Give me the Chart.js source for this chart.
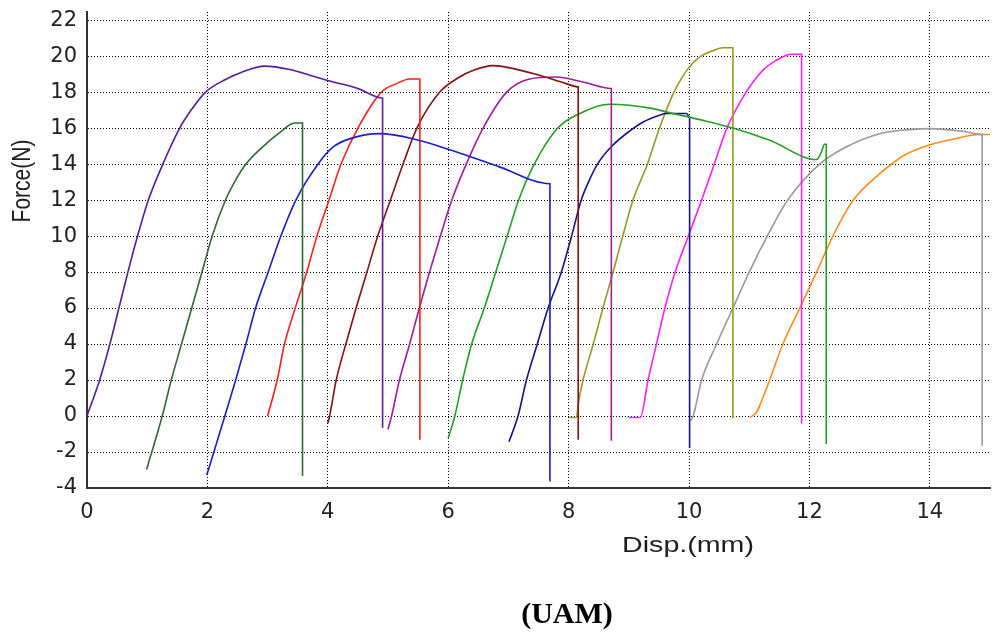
<!DOCTYPE html>
<html>
<head>
<meta charset="utf-8">
<title>Force vs Disp (UAM)</title>
<script src="https://cdn.jsdelivr.net/npm/chart.js@4.4.1/dist/chart.umd.min.js"></script>
<style>
  html, body { margin: 0; padding: 0; background: #fff; }
  #wrap { width: 992px; height: 634px; }
</style>
</head>
<body>
<div id="wrap"><canvas id="chart" width="992" height="634"></canvas></div>
<script>
// --- DATA ---
const xTicks = [0, 2, 4, 6, 8, 10, 12, 14];
const yTicks = [-4, -2, 0, 2, 4, 6, 8, 10, 12, 14, 16, 18, 20, 22];
const xTitle = 'Disp.(mm)';
const yTitle = 'Force(N)';
const caption = '(UAM)';

const disp1 = [0, 0.21, 0.38, 0.53, 0.68, 0.84, 1.02, 1.26, 1.54, 1.73, 1.97, 2.3, 2.57, 2.95, 3.37, 3.70, 4.03, 4.5, 4.91, 4.91];
const force1 = [0, 2, 4, 6, 8, 10, 12, 14, 16, 17, 18, 18.7, 19.1, 19.44, 19.25, 18.94, 18.62, 18.2, 17.67, -0.65];

const disp2 = [0.99, 1.25, 1.40, 1.57, 1.74, 1.91, 2.08, 2.3, 2.45, 2.64, 2.9, 3.2, 3.45, 3.58, 3.58];
const force2 = [-2.97, 0, 2, 4, 6, 8, 10, 12, 13, 14, 14.9, 15.75, 16.28, 16.28, -3.34];

const disp3 = [1.99, 2.29, 2.47, 2.64, 2.80, 3.01, 3.22, 3.47, 3.86, 4.09, 4.36, 4.86, 5.41, 6.30, 6.86, 7.69, 7.69];
const force3 = [-3.28, 0, 2, 4, 6, 8, 10, 12, 14.1, 14.95, 15.4, 15.69, 15.41, 14.49, 13.83, 12.91, -3.64];

const disp4 = [3.0, 3.16, 3.28, 3.46, 3.65, 3.82, 4.02, 4.22, 4.50, 4.89, 5.14, 5.36, 5.53, 5.53];
const force4 = [0, 2, 4, 6, 8, 10, 12, 14, 16, 18, 18.47, 18.73, 18.73, -1.32];

const disp5 = [4.0, 4.03, 4.14, 4.30, 4.47, 4.65, 4.83, 5.04, 5.25, 5.48, 5.86, 6.19, 6.41, 6.74, 7.41, 7.96, 8.16, 8.16];
const force5 = [-0.41, 0, 2, 4, 6, 8, 10, 12, 14, 16, 18, 18.84, 19.2, 19.47, 19.03, 18.47, 18.29, -1.32];

const disp6 = [5.0, 5.06, 5.19, 5.36, 5.52, 5.69, 5.87, 6.06, 6.30, 6.58, 6.97, 7.35, 7.79, 8.24, 8.71, 8.71];
const force6 = [-0.74, 0, 2, 4, 6, 8, 10, 12, 14, 16, 18, 18.73, 18.84, 18.56, 18.2, -1.37];

const disp7 = [6.0, 6.11, 6.24, 6.39, 6.60, 6.79, 6.98, 7.17, 7.43, 7.82, 8.18, 8.68, 9.01, 9.40, 9.62, 10.18, 10.73, 11.34, 12.12, 12.2, 12.25, 12.28, 12.28];
const force7 = [-1.23, 0, 2, 4, 6, 8, 10, 12, 14, 16, 16.8, 17.32, 17.27, 17.08, 16.9, 16.47, 16.0, 15.32, 14.25, 14.67, 15.1, 15.1, -1.56];

const disp8 = [7.01, 7.16, 7.30, 7.48, 7.66, 7.88, 8.05, 8.21, 8.33, 8.48, 8.72, 9.0, 9.24, 9.51, 9.62, 9.96, 10.01, 10.01];
const force8 = [-1.43, 0, 2, 4, 6, 8, 10, 12, 13, 14, 15, 15.8, 16.34, 16.71, 16.81, 16.81, 16.6, -1.78];

const disp9 = [8.01, 8.13, 8.16, 8.24, 8.41, 8.57, 8.74, 8.9, 9.07, 9.31, 9.51, 9.75, 9.92, 10.06, 10.2, 10.4, 10.56, 10.73, 10.73];
const force9 = [-0.08, -0.08, 0.67, 2, 4, 6, 8, 10, 12, 14, 16, 18, 19, 19.6, 20, 20.3, 20.46, 20.46, -0.13];

const disp10 = [9.0, 9.19, 9.32, 9.46, 9.60, 9.77, 9.99, 10.21, 10.42, 10.63, 10.95, 11.23, 11.45, 11.62, 11.67, 11.87, 11.87];
const force10 = [-0.08, -0.08, 2, 4, 6, 8, 10, 12, 14, 16, 18, 19.22, 19.77, 20.05, 20.1, 20.1, -0.41];

const disp11 = [10.03, 10.07, 10.21, 10.46, 10.73, 11.0, 11.3, 11.64, 12.17, 12.61, 13.17, 13.72, 14.0, 14.55, 14.87, 14.87];
const force11 = [-0.26, 0, 2, 4, 6, 8, 10, 12, 14, 14.95, 15.69, 15.93, 15.97, 15.82, 15.64, -1.65];

const disp12 = [11.01, 11.12, 11.23, 11.34, 11.56, 11.84, 12.12, 12.39, 12.73, 13.17, 13.45, 13.55, 14.03, 14.38, 14.83, 15.0];
const force12 = [-0.08, 0.2, 1.04, 2, 4, 6, 8, 10, 12, 13.47, 14.21, 14.45, 15.1, 15.38, 15.64, 15.64];

const curves = [
  [disp1, force1, '#5a1a9e'],
  [disp2, force2, '#2f6b2f'],
  [disp3, force3, '#1c1cc8'],
  [disp4, force4, '#ff2020'],
  [disp5, force5, '#8b0f0f'],
  [disp6, force6, '#a01ca0'],
  [disp7, force7, '#22a022'],
  [disp8, force8, '#14148c'],
  [disp9, force9, '#9a9a1e'],
  [disp10, force10, '#ff22ff'],
  [disp11, force11, '#9a9a9a'],
  [disp12, force12, '#ff8c1a']
];

// --- DATASETS ---
// monotone keeps the curves smooth without bulging past the vertical drops
const datasets = curves.map(([xs, ys, color], i) => ({
  label: 'Sample ' + (i + 1),
  data: xs.map((x, k) => ({ x: x, y: ys[k] })),
  borderColor: color,
  borderWidth: 1.6,
  pointRadius: 0,
  cubicInterpolationMode: 'monotone',
  fill: false
}));

// --- AXIS TITLES + CAPTION (drawn after the chart) ---
const titlesPlugin = {
  id: 'titles',
  afterDraw(chart) {
    const ctx = chart.ctx;
    ctx.save();
    ctx.fillStyle = '#1e1e1e';
    ctx.textAlign = 'center';
    ctx.textBaseline = 'middle';

    // y title, rotated and a bit wide like the source
    ctx.save();
    ctx.translate(23, 181);
    ctx.rotate(-Math.PI / 2);
    ctx.scale(1, 1.2);
    ctx.font = '21px "Liberation Sans", Arial, sans-serif';
    ctx.fillText(yTitle, 0, 0);
    ctx.restore();

    // x title
    ctx.save();
    ctx.translate(688, 546);
    ctx.scale(1.3, 1);
    ctx.font = '22px "Liberation Sans", Arial, sans-serif';
    ctx.fillText(xTitle, 0, 0);
    ctx.restore();

    // caption
    ctx.fillStyle = '#000';
    ctx.font = 'bold 30px "Liberation Serif", "Times New Roman", serif';
    ctx.fillText(caption, 567, 615);
    ctx.restore();
  }
};

// --- CHART ---
const tickFont = { family: '"DejaVu Sans", sans-serif', size: 21 };

new Chart(document.getElementById('chart'), {
  type: 'line',
  data: { datasets: datasets },
  options: {
    responsive: false,
    animation: false,
    layout: { padding: { top: 12, right: 2, left: 0, bottom: 0 } },
    plugins: {
      legend: { display: false },
      tooltip: { enabled: false }
    },
    scales: {
      x: {
        type: 'linear',
        min: 0,
        max: 15,
        afterBuildTicks: s => { s.ticks = xTicks.map(v => ({ value: v })); },
        afterFit: s => { s.height = 146; s.paddingLeft = 0; s.paddingRight = 0; },
        ticks: { font: tickFont, color: '#222', padding: 12, maxRotation: 0 },
        grid: { color: '#000', lineWidth: 1, drawTicks: false },
        border: { display: true, color: '#333', width: 2, dash: [1, 2] }
      },
      y: {
        type: 'linear',
        min: -4,
        max: 22.45,
        afterBuildTicks: s => { s.ticks = yTicks.map(v => ({ value: v })); },
        afterFit: s => { s.width = 87; s.paddingTop = 0; s.paddingBottom = 0; },
        ticks: { font: tickFont, color: '#222', padding: 10 },
        grid: { color: '#000', lineWidth: 1, drawTicks: false },
        border: { display: true, color: '#333', width: 2, dash: [1, 2] }
      }
    }
  },
  plugins: [titlesPlugin]
});
</script>
</body>
</html>
